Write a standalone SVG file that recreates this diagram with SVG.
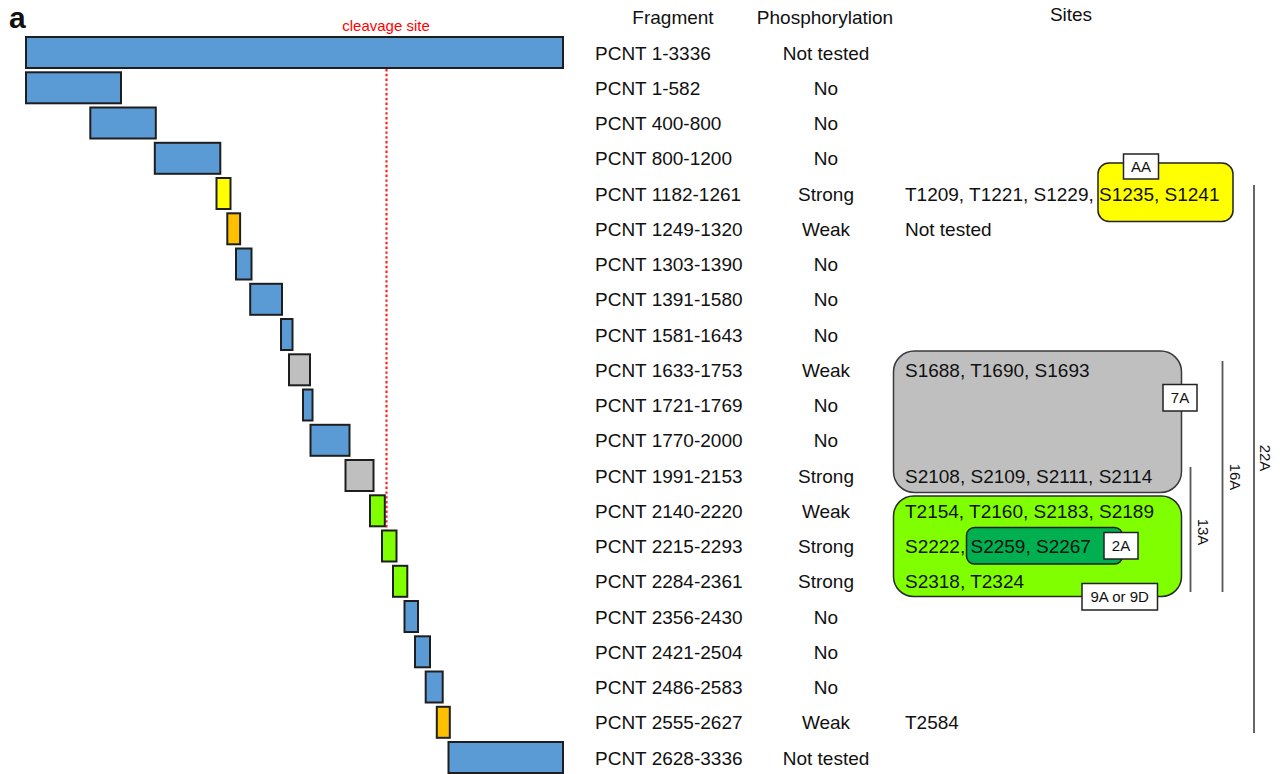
<svg xmlns="http://www.w3.org/2000/svg" width="1288" height="774" viewBox="0 0 1288 774">
<style>
text{font-family:"Liberation Sans",Arial,sans-serif;fill:#111}
.t{font-size:19px}
.c{text-anchor:middle}
.lb{font-size:15px;text-anchor:middle}
.bar{stroke:#1e1e1e;stroke-width:2}
.blue{fill:#5B9BD5}.yel{fill:#FFFF00}.org{fill:#FFC000}.gry{fill:#BFBFBF}.grn{fill:#80FF00}
.tag{fill:#fff;stroke:#222;stroke-width:1.5}
.br{stroke:#555;stroke-width:1.8;fill:none}
</style>
<rect width="1288" height="774" fill="#fff"/>
<text x="9" y="28" style="font-size:30px;font-weight:bold">a</text>
<text x="386" y="31" class="c" style="font-size:15px;fill:#ff0000">cleavage site</text>
<text x="673" y="24" class="t c">Fragment</text>
<text x="825" y="24" class="t c">Phosphorylation</text>
<text x="1071" y="21" class="t c">Sites</text>

<!-- site boxes -->
<g id="box-yellow"><rect x="1098" y="163" width="135" height="58.5" rx="11" fill="#FFFF00" stroke="#222" stroke-width="1.5"/></g>
<g id="box-gray"><rect x="893.5" y="351" width="288" height="141.5" rx="21" fill="#BFBFBF" stroke="#3a3a3a" stroke-width="1.5"/></g>
<g id="box-green"><rect x="893.5" y="496" width="288" height="100.5" rx="20" fill="#80FF00" stroke="#2a2a2a" stroke-width="1.5"/>
<rect x="966.5" y="527.5" width="156" height="36.5" rx="8" fill="#00B050" stroke="#1e1e1e" stroke-width="1.5"/></g>

<g id="connectors">
<line x1="386.5" y1="69" x2="386.5" y2="531" stroke="#ff2020" stroke-width="2.2" stroke-dasharray="2.4 2.4"/>
<line x1="386.5" y1="38" x2="386.5" y2="68" stroke="#e02020" stroke-width="2"/>
<line x1="386.5" y1="531.5" x2="386.5" y2="561" stroke="#e02020" stroke-width="2"/>
<line class="br" x1="1254" y1="185" x2="1254" y2="733"/>
<line class="br" x1="1222.5" y1="361" x2="1222.5" y2="592"/>
<line class="br" x1="1190.5" y1="467" x2="1190.5" y2="592"/>
</g>

<g id="r0"><rect class="bar blue" x="26" y="37" width="537" height="31"/><text class="t" x="595" y="59.5">PCNT 1-3336</text><text class="t c" x="826" y="59.5">Not tested</text></g>
<g id="r1"><rect class="bar blue" x="26" y="72.3" width="95" height="31"/><text class="t" x="595" y="94.8">PCNT 1-582</text><text class="t c" x="826" y="94.8">No</text></g>
<g id="r2"><rect class="bar blue" x="90.3" y="107.5" width="65.5" height="31"/><text class="t" x="595" y="130">PCNT 400-800</text><text class="t c" x="826" y="130">No</text></g>
<g id="r3"><rect class="bar blue" x="154.8" y="142.8" width="65.5" height="31"/><text class="t" x="595" y="165.3">PCNT 800-1200</text><text class="t c" x="826" y="165.3">No</text></g>
<g id="r4"><rect class="bar yel" x="216.5" y="178" width="14" height="31"/><text class="t" x="595" y="200.5">PCNT 1182-1261</text><text class="t c" x="826" y="200.5">Strong</text><text class="t" x="905" y="200.5">T1209, T1221, S1229, S1235, S1241</text></g>
<g id="r5"><rect class="bar org" x="227.3" y="213.3" width="12.8" height="31"/><text class="t" x="595" y="235.8">PCNT 1249-1320</text><text class="t c" x="826" y="235.8">Weak</text><text class="t" x="905" y="235.8">Not tested</text></g>
<g id="r6"><rect class="bar blue" x="236" y="248.5" width="15.5" height="31"/><text class="t" x="595" y="271">PCNT 1303-1390</text><text class="t c" x="826" y="271">No</text></g>
<g id="r7"><rect class="bar blue" x="250.2" y="283.8" width="31.8" height="31"/><text class="t" x="595" y="306.3">PCNT 1391-1580</text><text class="t c" x="826" y="306.3">No</text></g>
<g id="r8"><rect class="bar blue" x="281" y="319" width="11.5" height="31"/><text class="t" x="595" y="341.5">PCNT 1581-1643</text><text class="t c" x="826" y="341.5">No</text></g>
<g id="r9"><rect class="bar gry" x="289" y="354.3" width="21" height="31"/><text class="t" x="595" y="376.8">PCNT 1633-1753</text><text class="t c" x="826" y="376.8">Weak</text><text class="t" x="905" y="376.8">S1688, T1690, S1693</text></g>
<g id="r10"><rect class="bar blue" x="303" y="389.5" width="9.5" height="31"/><text class="t" x="595" y="412">PCNT 1721-1769</text><text class="t c" x="826" y="412">No</text></g>
<g id="r11"><rect class="bar blue" x="310.5" y="424.8" width="39" height="31"/><text class="t" x="595" y="447.3">PCNT 1770-2000</text><text class="t c" x="826" y="447.3">No</text></g>
<g id="r12"><rect class="bar gry" x="345.5" y="460" width="28" height="31"/><text class="t" x="595" y="482.5">PCNT 1991-2153</text><text class="t c" x="826" y="482.5">Strong</text><text class="t" x="905" y="482.5">S2108, S2109, S2111, S2114</text></g>
<g id="r13"><rect class="bar grn" x="370" y="495.3" width="14.8" height="31"/><text class="t" x="595" y="517.8">PCNT 2140-2220</text><text class="t c" x="826" y="517.8">Weak</text><text class="t" x="905" y="517.8">T2154, T2160, S2183, S2189</text></g>
<g id="r14"><rect class="bar grn" x="382" y="530.5" width="14.5" height="31"/><text class="t" x="595" y="553">PCNT 2215-2293</text><text class="t c" x="826" y="553">Strong</text><text class="t" x="905" y="553">S2222, S2259, S2267</text></g>
<g id="r15"><rect class="bar grn" x="393" y="565.8" width="14.3" height="31"/><text class="t" x="595" y="588.3">PCNT 2284-2361</text><text class="t c" x="826" y="588.3">Strong</text><text class="t" x="905" y="588.3">S2318, T2324</text></g>
<g id="r16"><rect class="bar blue" x="404.5" y="601" width="13.5" height="31"/><text class="t" x="595" y="623.5">PCNT 2356-2430</text><text class="t c" x="826" y="623.5">No</text></g>
<g id="r17"><rect class="bar blue" x="415" y="636.3" width="15" height="31"/><text class="t" x="595" y="658.8">PCNT 2421-2504</text><text class="t c" x="826" y="658.8">No</text></g>
<g id="r18"><rect class="bar blue" x="425.7" y="671.5" width="17" height="31"/><text class="t" x="595" y="694">PCNT 2486-2583</text><text class="t c" x="826" y="694">No</text></g>
<g id="r19"><rect class="bar org" x="436.8" y="706.8" width="13" height="31"/><text class="t" x="595" y="729.3">PCNT 2555-2627</text><text class="t c" x="826" y="729.3">Weak</text><text class="t" x="905" y="729.3">T2584</text></g>
<g id="r20"><rect class="bar blue" x="448.5" y="742" width="114.5" height="31"/><text class="t" x="595" y="764.5">PCNT 2628-3336</text><text class="t c" x="826" y="764.5">Not tested</text></g>

<!-- tags -->
<g id="tag-AA"><rect class="tag" x="1123.5" y="154" width="35" height="25"/><text class="lb" x="1141" y="171.5">AA</text></g>
<g id="tag-7A"><rect class="tag" x="1163" y="384.5" width="34" height="26.5"/><text class="lb" x="1180" y="403">7A</text></g>
<g id="tag-2A"><rect class="tag" x="1104" y="532.5" width="34" height="26.5"/><text class="lb" x="1121" y="551">2A</text></g>
<g id="tag-9A"><rect class="tag" x="1082" y="583.5" width="75.5" height="26.5"/><text class="lb" x="1119.7" y="602">9A or 9D</text></g>
<g id="lbl-22A"><text class="lb" transform="translate(1265 458) rotate(90)" dy="5">22A</text></g>
<g id="lbl-16A"><text class="lb" transform="translate(1235 477) rotate(90)" dy="5">16A</text></g>
<g id="lbl-13A"><text class="lb" transform="translate(1203 532) rotate(90)" dy="5">13A</text></g>
</svg>
